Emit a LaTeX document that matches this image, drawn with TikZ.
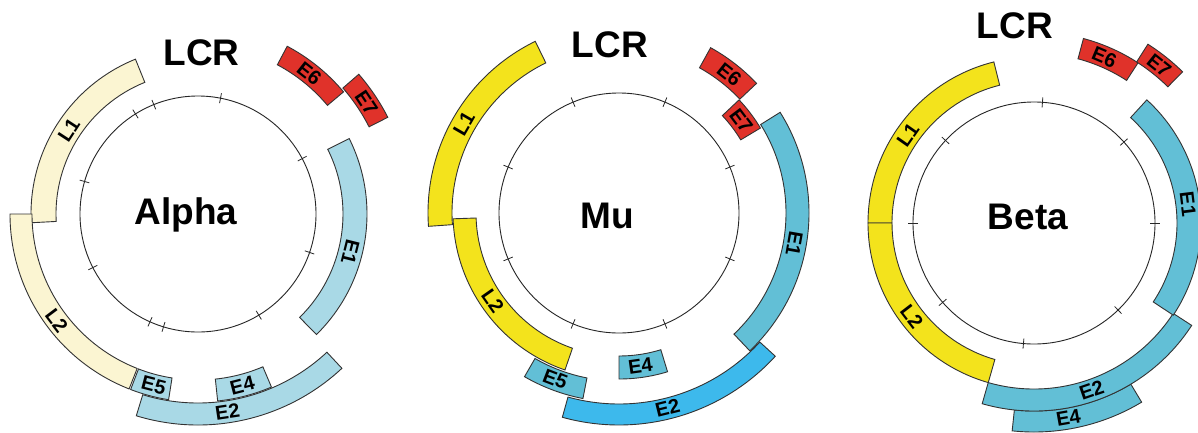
\documentclass[tikz,border=0pt]{standalone}
\usepackage{fontspec}
\setmainfont{Liberation Sans}
\definecolor{paleY}{HTML}{FBF5D2}
\definecolor{paleB}{HTML}{A9D9E6}
\definecolor{redE}{HTML}{E0322A}
\definecolor{yel}{HTML}{F3E31C}
\definecolor{blu}{HTML}{62BFD6}
\definecolor{bluB}{HTML}{3DB9EC}
\tikzset{
 seg/.style={draw=black!80, line width=0.9pt, line join=miter},
 lab/.style={font=\fontsize{20}{22}\selectfont\bfseries, inner sep=0pt},
 big/.style={font=\fontsize{37}{40}\selectfont\bfseries, inner sep=0pt, anchor=base},
 genome/.style={draw=black!85, line width=0.9pt},
 tk/.style={draw=black!85, line width=0.8pt}
}
\newcommand\gene[5]{\draw[seg,fill=#5] (#3:#1) arc[start angle=#3,end angle=#4,radius=#1] -- (#4:#2) arc[start angle=#4,end angle=#3,radius=#2] -- cycle;}
\newcommand\glab[5]{\node[lab,rotate=#4] (#5) at (#1:#2) {#3};}
\begin{document}
\begin{tikzpicture}[x=1pt,y=1pt]
\useasboundingbox (0,-432) rectangle (1198,0);
\clip (0,-432) rectangle (1198,0);
\fill[white] (0,-432) rectangle (1198,0);
% ---------------- Alpha ----------------
\node[big] (aLCR) at (201.5,-65) {LCR};
\node[big] (aName) at (186,-224) {Alpha};
\begin{scope}[shift={(198,-214)}]
 \draw[genome] (0,0) circle[radius=118];
 \foreach \a in {28,79,112,122,164,207,246,253,301,341} \draw[tk] (\a:113) -- (\a:123);
 \gene{142}{167}{112}{183}{paleY}
 \gene{166}{188}{180}{248.5}{paleY}
 \gene{189}{211}{253}{313}{paleB}
 \gene{166}{188}{249}{261}{paleB}
 \gene{166}{188}{276}{293}{paleB}
 \gene{145}{169}{-45.5}{26.5}{paleB}
 \gene{169}{190}{40}{62}{redE}
 \gene{192}{213}{27}{41}{redE}
 \glab{147}{154}{L1}{57}{aL1}
 \glab{217}{177}{L2}{-53}{aL2}
 \glab{-14}{157}{E1}{-104}{aE1}
 \glab{51.6}{179}{E6}{-38.4}{aE6}
 \glab{33.5}{202}{E7}{-56.5}{aE7}
 \glab{255.5}{177}{E5}{-14.5}{aE5}
 \glab{284.5}{177}{E4}{14.5}{aE4}
 \glab{278.5}{200}{E2}{8.5}{aE2}
\end{scope}
% ---------------- Mu ----------------
\node[big] (mLCR) at (610,-57) {LCR};
\node[big] (mName) at (607,-228) {Mu};
\begin{scope}[shift={(619,-213)}]
 \draw[genome] (0,0) circle[radius=120];
 \foreach \a in {22.5,67.5,112.5,157.5,202.5,247.5,292.5,337.5} \draw[tk] (\a:115) -- (\a:125);
 \gene{191}{212}{254.5}{317.5}{bluB}
 \gene{167}{190}{-46.5}{32}{blu}
 \gene{168}{189}{240}{259}{blu}
 \gene{143}{166}{270}{287}{blu}
 \gene{167}{191}{116}{184}{yel}
 \gene{143}{166}{182}{251}{yel}
 \gene{166}{189}{43.3}{61}{redE}
 \gene{142}{165}{31}{43.3}{redE}
 \glab{150}{179}{L1}{60}{mL1}
 \glab{215}{154}{L2}{-55}{mL2}
 \glab{-10}{178}{E1}{-100}{mE1}
 \glab{51.5}{177}{E6}{-38.5}{mE6}
 \glab{37}{153}{E7}{-53}{mE7}
 \glab{249}{178}{E5}{-21}{mE5}
 \glab{278}{154}{E4}{8}{mE4}
 \glab{284}{201}{E2}{14}{mE2}
\end{scope}
% ---------------- Beta ----------------
\node[big] (bLCR) at (1015,-38) {LCR};
\node[big] (bName) at (1028,-229) {Beta};
\begin{scope}[shift={(1034,-223)}]
 \draw[genome] (0,0) circle[radius=121];
 \foreach \a in {0,42,86,137,180,221,265,314} \draw[tk] (\a:116) -- (\a:126);
 \gene{142}{166}{104}{180}{yel}
 \gene{142}{166}{180}{254}{yel}
 \gene{188}{209}{264}{301}{blu}
 \gene{166}{188}{254}{327}{blu}
 \gene{143}{167}{-33.5}{47.5}{blu}
 \gene{170}{191}{57}{75}{redE}
 \gene{191}{212}{45.5}{57.5}{redE}
 \glab{145}{154}{L1}{55}{bL1}
 \glab{217.5}{154}{L2}{-52.5}{bL2}
 \glab{7}{155}{E1}{-83}{bE1}
 \glab{67}{180}{E6}{-23}{bE6}
 \glab{51.5}{201}{E7}{-38.5}{bE7}
 \glab{289}{177}{E2}{19}{bE2}
 \glab{280}{198}{E4}{10}{bE4}
\end{scope}
\end{tikzpicture}
\end{document}
